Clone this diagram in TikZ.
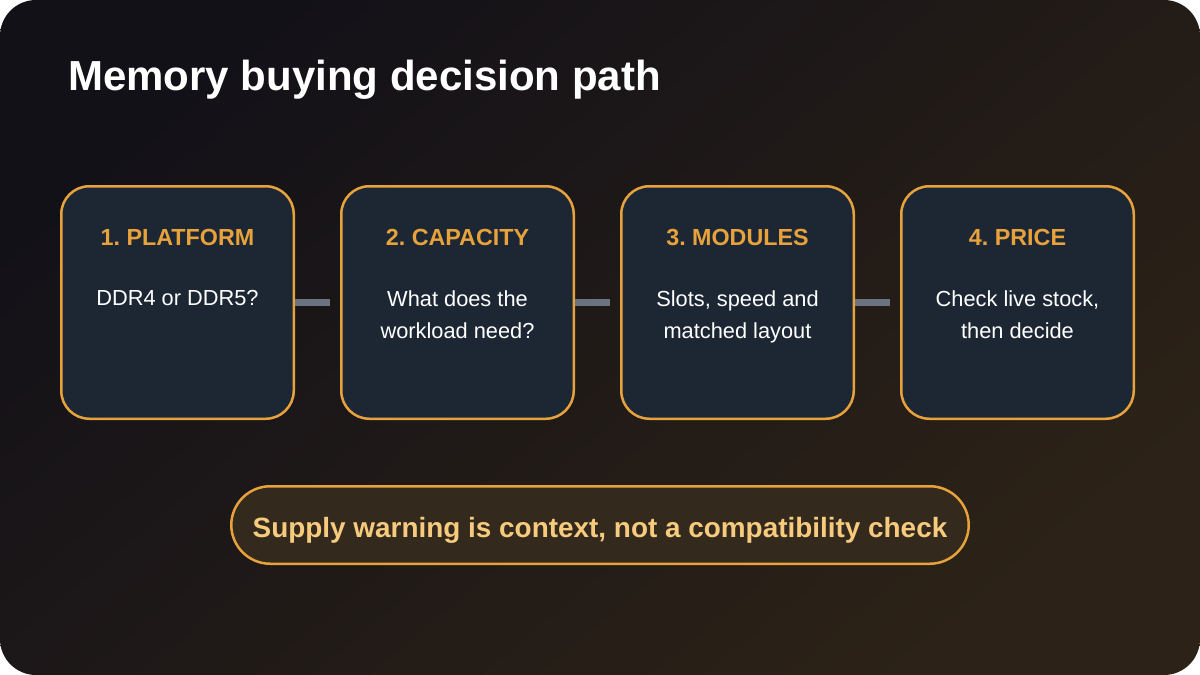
\documentclass[tikz,border=0pt]{standalone}
\usepackage{fontspec}
\setmainfont{Liberation Sans}
\usetikzlibrary{positioning}
\definecolor{bg dark}{HTML}{131118}
\definecolor{bg brown}{HTML}{2C2217}
\definecolor{box fill}{HTML}{1C2733}
\definecolor{accent}{HTML}{E8A23C}
\definecolor{link gray}{HTML}{6B7280}
\definecolor{pill fill}{HTML}{33291D}
\definecolor{pill text}{HTML}{F7CB7E}
\frenchspacing
\tikzset{
    % Colors
    accent color/.style={accent},
    %
    % Step boxes
    stepbox/.style={draw=accent,line width=2.5pt,fill=box fill,rounded corners=28pt,
        minimum width=232.5pt,minimum height=232.5pt},
    steptitle/.style={text=accent,inner sep=0pt,font=\fontsize{23.3}{27}\selectfont\bfseries},
    steptext/.style={text=white,align=center,anchor=north,inner sep=0pt,
        font=\fontsize{21.8}{32}\selectfont},
    %
    % Connectors
    link/.style={draw=link gray,line width=6.5pt,shorten >=10pt},
    %
    % Warning pill
    pill/.style={draw=accent,line width=2.5pt,fill=pill fill,rounded corners=39pt,
        minimum width=737.5pt,minimum height=77.5pt,text=pill text,
        text height=30pt,text depth=6pt,
        font=\fontsize{27.9}{32}\selectfont\bfseries}
}
\begin{document}
\begin{tikzpicture}[x=1pt,y=1pt,node distance=45pt]
        \fill[white] (0,0) rectangle (1200,-675);
        \useasboundingbox (0,0) rectangle (1200,-675);
        \shade[rounded corners=36pt,top color=bg dark,bottom color=bg brown,shading angle=40]
            (0,0) rectangle (1200,-675);
        \node[anchor=base west,inner sep=0pt,text=white,font=\fontsize{42}{50}\selectfont\bfseries]
            (title) at (68,-90) {Memory buying decision path};
        % steps
        \node[stepbox] (b1) at (177.5,-302.5) {};
        \node[stepbox,right=of b1] (b2) {};
        \node[stepbox,right=of b2] (b3) {};
        \node[stepbox,right=of b3] (b4) {};
        \node[steptitle] (h1) at ([yshift=-52pt]b1.north) {1. PLATFORM};
        \node[steptitle] (h2) at ([yshift=-52pt]b2.north) {2. CAPACITY};
        \node[steptitle] (h3) at ([yshift=-52pt]b3.north) {3. MODULES};
        \node[steptitle] (h4) at ([yshift=-52pt]b4.north) {4. PRICE};
        \node[steptext] (t1) at ([yshift=-105pt]b1.north) {DDR4 or DDR5?};
        \node[steptext] (t2) at ([yshift=-105pt]b2.north) {What does the\\workload need?};
        \node[steptext] (t3) at ([yshift=-105pt]b3.north) {Slots, speed and\\matched layout};
        \node[steptext] (t4) at ([yshift=-105pt]b4.north) {Check live stock,\\then decide};
        \foreach \a/\b in {b1/b2,b2/b3,b3/b4}
            \draw[link] (\a.east) -- (\b.west);
        % warning
        \node[pill] (warn) at (600,-525) {Supply warning is context, not a compatibility check};
    \end{tikzpicture}
\end{document}
